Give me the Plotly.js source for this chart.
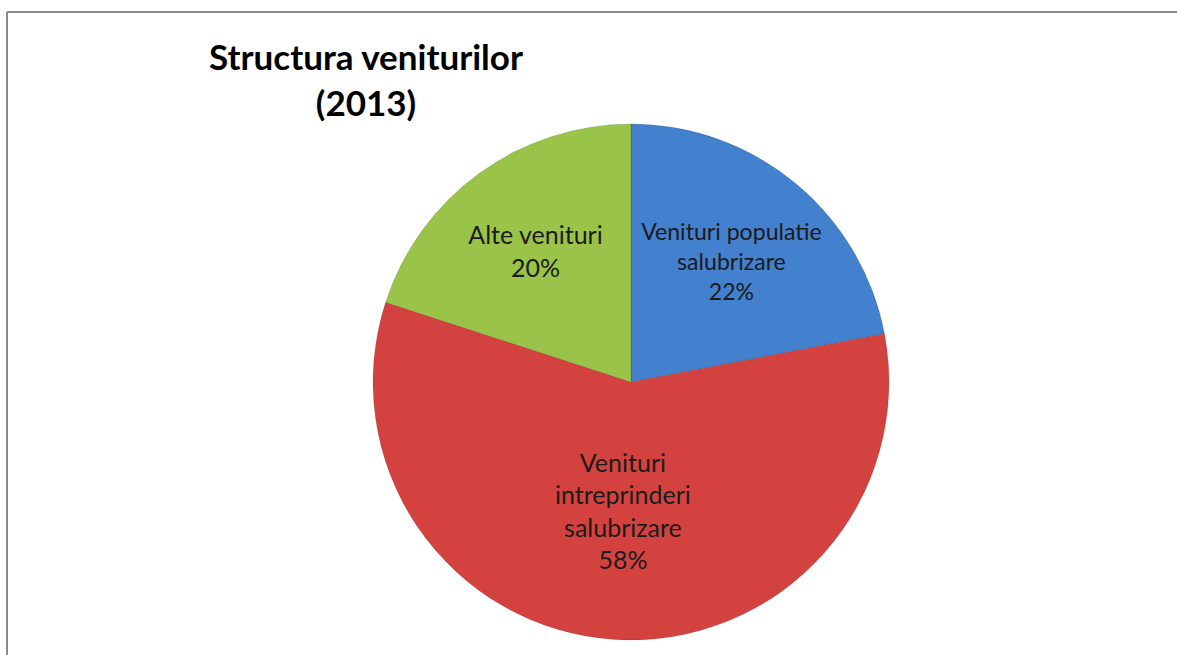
<!DOCTYPE html>
<html>
<head>
<meta charset="utf-8">
<script src="https://cdn.plot.ly/plotly-3.0.1.min.js"></script>
<style>html,body{margin:0;padding:0;background:#fff;}#chart{width:1177px;height:655px;}</style>
</head>
<body>
<div id="chart"></div>
<script>
const categories = ["Venituri populatie<br>salubrizare", "Venituri<br>intreprinderi<br>salubrizare", "Alte venituri"];
const shares = [22, 58, 20];
const colors = ["#4380CD", "#D4423F", "#9AC449"];
const titleText = "<b>Structura veniturilor<br>(2013)</b>";

const W = 1177, H = 655;
const cx = 631, cy = 382, r = 258;

const trace = {
  type: "pie",
  labels: categories,
  values: shares,
  sort: false,
  direction: "clockwise",
  rotation: 0,
  marker: {colors: colors, line: {color: "rgba(0,0,0,0.12)", width: 1}},
  texttemplate: "%{label}<br>%{percent:.0%}",
  textposition: "inside",
  insidetextorientation: "horizontal",
  textfont: {family: "Lato, 'Open Sans', sans-serif", size: 25, color: "#1b1b1b"},
  hoverinfo: "label+percent",
  showlegend: false,
  domain: {x: [(cx - r) / W, (cx + r) / W], y: [1 - (cy + r) / H, 1 - (cy - r) / H]}
};

const layout = {
  width: W, height: H,
  margin: {l: 0, r: 0, t: 0, b: 0},
  paper_bgcolor: "#ffffff",
  title: {text: titleText, x: 366 / W, xanchor: "center", y: 1 - 70 / H, yanchor: "top",
          font: {family: "Lato, 'Open Sans', sans-serif", size: 35, color: "#000000"}},
  shapes: [
    {type: "line", xref: "paper", yref: "paper", x0: 7 / W, x1: 1.01, y0: 1 - 12 / H, y1: 1 - 12 / H, line: {color: "#8a8a8a", width: 2}},
    {type: "line", xref: "paper", yref: "paper", x0: 7 / W, x1: 7 / W, y0: 1 - 12 / H, y1: -0.01, line: {color: "#8a8a8a", width: 2}}
  ]
};

Plotly.newPlot("chart", [trace], layout, {displayModeBar: false, staticPlot: true});
</script>
</body>
</html>
